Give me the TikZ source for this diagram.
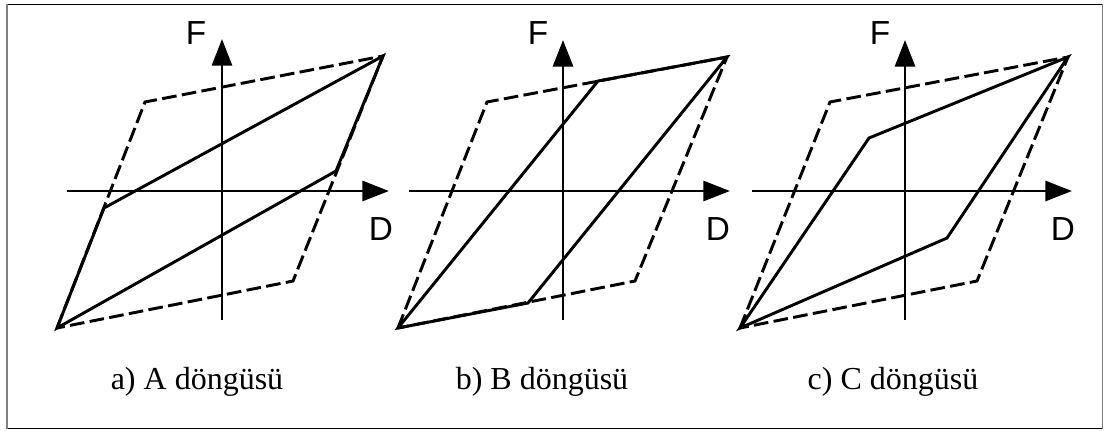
\documentclass[tikz,border=0pt]{standalone}
\usepackage{fontspec}
\setmainfont{Liberation Serif}
\newfontfamily\axisfont{Liberation Sans}
\usetikzlibrary{arrows.meta}
\tikzset{
  curve/.style={line width=2.2pt, line join=miter, black},
  envelope/.style={line width=2.2pt, dash pattern=on 11pt off 4pt, black},
  axisline/.style={line width=2.2pt, -{Triangle[length=20pt,width=15pt]}},
  axlabel/.style={font=\axisfont\fontsize{25}{27}\selectfont, inner sep=0pt},
  caption/.style={font=\fontsize{24}{26}\selectfont, inner sep=0pt, anchor=base},
}
\begin{document}
\begin{tikzpicture}[x=0.75pt,y=-0.75pt]
\useasboundingbox (0,0) rectangle (1104,430);
% frame
\draw[black, line width=0.8pt] (7,4.5) -- (1102.5,4.5);
\draw[black, line width=0.8pt] (7,428.5) -- (1102.5,428.5);
\draw[gray, line width=1.3pt] (7,4) -- (7,429);
\draw[gray, line width=1.3pt] (1102.5,4) -- (1102.5,429);

% ---------- panel a ----------
\coordinate (a1) at (57,328);
\coordinate (a2) at (145,102);
\coordinate (a3) at (383,56);
\coordinate (a4) at (293,281);
\coordinate (ak1) at (104,208);
\coordinate (ak2) at (336,171);
\coordinate (ax0) at (67,191);
\coordinate (ax1) at (389,191);
\coordinate (ay0) at (222,320);
\coordinate (ay1) at (222,39);
\draw[envelope] (a1) -- (a2) -- (a3) -- (a4) -- cycle;
\draw[axisline] (ax0) -- (ax1);
\draw[axisline] (ay0) -- (ay1);
\draw[curve] (a1) -- (ak1) -- (a3) -- (ak2) -- cycle;
\node[axlabel] (Fa) at (196,33) {F};
\node[axlabel] (Da) at (381,229) {D};
\node[caption] (ca) at (197,389) {a) A döngüsü};

% ---------- panel b ----------
\coordinate (b1) at (398,328);
\coordinate (b2) at (487,102);
\coordinate (b3) at (727,57);
\coordinate (b4) at (635,281);
\coordinate (bk1) at (598,81);
\coordinate (bk2) at (528,303);
\coordinate (bx0) at (409,191);
\coordinate (bx1) at (730,191);
\coordinate (by0) at (563,320);
\coordinate (by1) at (563,40);
\draw[envelope] (b1) -- (b2) -- (b3) -- (b4) -- cycle;
\draw[axisline] (bx0) -- (bx1);
\draw[axisline] (by0) -- (by1);
\draw[curve] (b1) -- (bk1) -- (b3) -- (bk2) -- cycle;
\node[axlabel] (Fb) at (538,33) {F};
\node[axlabel] (Db) at (718,229) {D};
\node[caption] (cb) at (542,389) {b) B döngüsü};

% ---------- panel c ----------
\coordinate (c1) at (740,328);
\coordinate (c2) at (830,102);
\coordinate (c3) at (1068,57);
\coordinate (c4) at (977,281);
\coordinate (ck1) at (869,138);
\coordinate (ck2) at (947,238);
\coordinate (cx0) at (752,191);
\coordinate (cx1) at (1072,191);
\coordinate (cy0) at (905,320);
\coordinate (cy1) at (905,40);
\draw[envelope] (c1) -- (c2) -- (c3) -- (c4) -- cycle;
\draw[axisline] (cx0) -- (cx1);
\draw[axisline] (cy0) -- (cy1);
\draw[curve] (c1) -- (ck1) -- (c3) -- (ck2) -- cycle;
\node[axlabel] (Fc) at (880,33) {F};
\node[axlabel] (Dc) at (1063,229) {D};
\node[caption] (cc) at (893,389) {c) C döngüsü};
\end{tikzpicture}
\end{document}
